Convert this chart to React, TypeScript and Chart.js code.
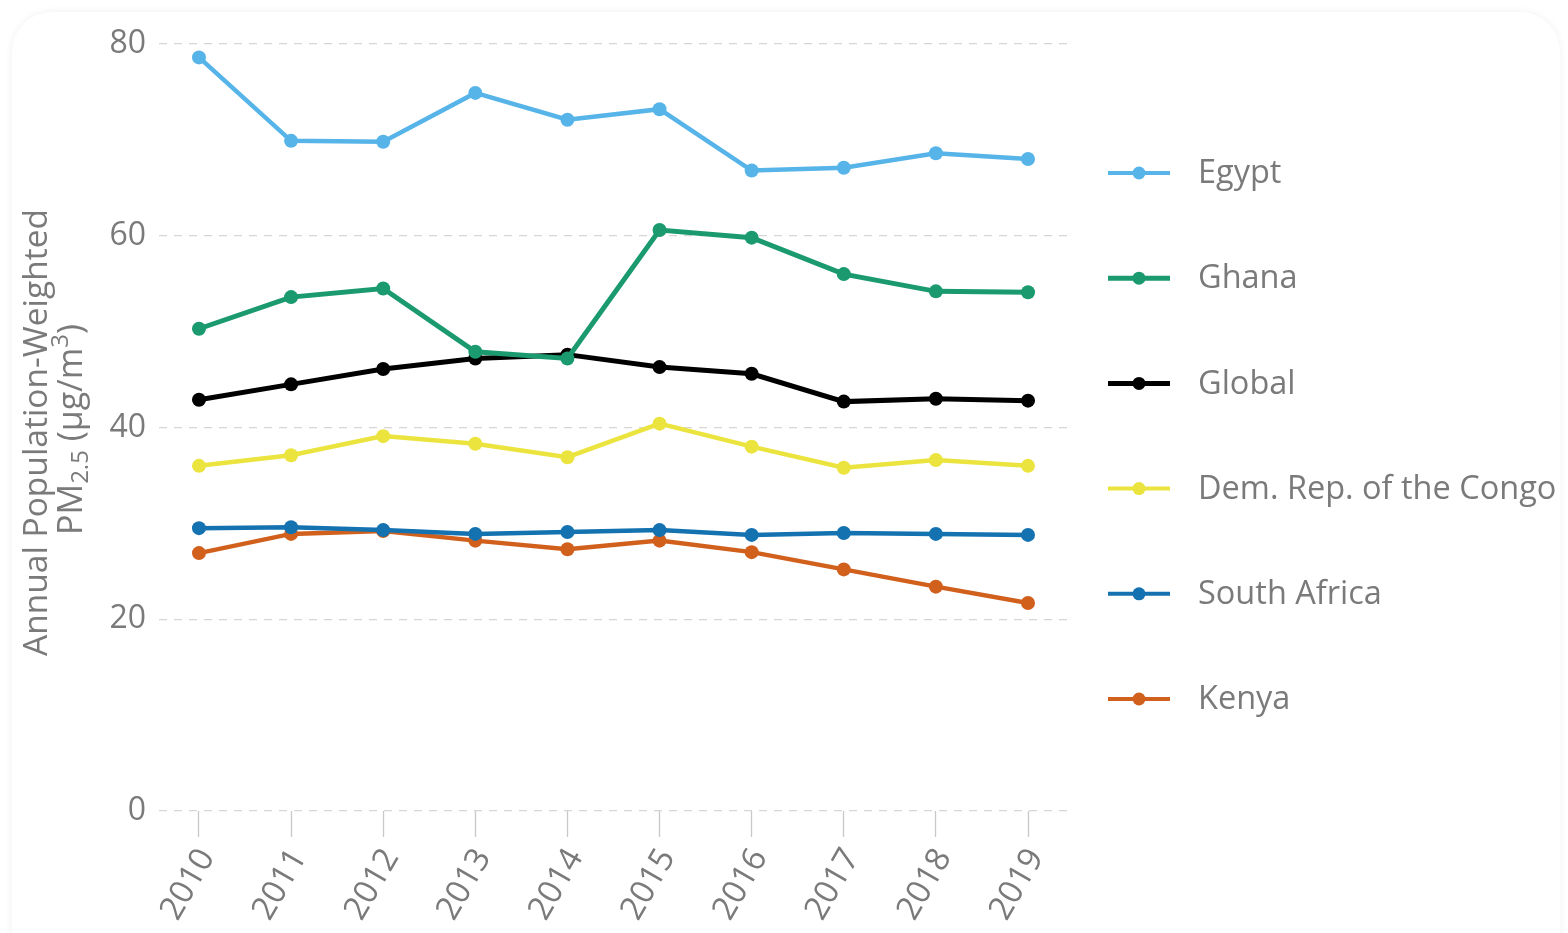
import React, { useEffect, useRef } from 'react';
import { Chart, registerables } from 'chart.js';

Chart.register(...registerables);

// ---- data ----
const years = [2010, 2011, 2012, 2013, 2014, 2015, 2016, 2017, 2018, 2019];
const egypt = [78.6, 69.9, 69.8, 74.9, 72.1, 73.2, 66.8, 67.1, 68.6, 68.0];
const ghana = [50.3, 53.6, 54.5, 47.9, 47.2, 60.6, 59.8, 56.0, 54.2, 54.1];
const globalAvg = [42.9, 44.5, 46.1, 47.2, 47.6, 46.3, 45.6, 42.7, 43.0, 42.8];
const drc = [36.0, 37.1, 39.1, 38.3, 36.9, 40.4, 38.0, 35.8, 36.6, 36.0];
const southAfrica = [29.5, 29.6, 29.3, 28.9, 29.1, 29.3, 28.8, 29.0, 28.9, 28.8];
const kenya = [26.9, 28.9, 29.2, 28.2, 27.3, 28.2, 27.0, 25.2, 23.4, 21.7];
const seriesNames = ['Egypt', 'Ghana', 'Global', 'Dem. Rep. of the Congo', 'South Africa', 'Kenya'];
const seriesColors = ['#56B4E9', '#1A9A6E', '#000000', '#EBE43F', '#1472B0', '#D2601D'];
const yTicks = [0, 20, 40, 60, 80];

const FONT = '"Open Sans", "Noto Sans", sans-serif';
const TEXT = '#7a7a7a';

const allSeries = [egypt, ghana, globalAvg, drc, southAfrica, kenya];

const overlayPlugin = {
  id: 'overlay',
  afterDraw(chart: any) {
    const { ctx, chartArea } = chart;
    ctx.save();
    // legend
    const x0 = chartArea.right + 39;
    seriesNames.forEach((name, i) => {
      const y = chartArea.top + 129 + i * 105.2;
      const c = seriesColors[i];
      ctx.strokeStyle = c;
      ctx.lineWidth = i === 1 || i === 2 ? 5 : 4;
      ctx.beginPath();
      ctx.moveTo(x0, y);
      ctx.lineTo(x0 + 62, y);
      ctx.stroke();
      ctx.fillStyle = c;
      ctx.beginPath();
      ctx.arc(x0 + 31, y, 6.5, 0, Math.PI * 2);
      ctx.fill();
      ctx.fillStyle = TEXT;
      ctx.font = `32.5px ${FONT}`;
      ctx.textAlign = 'left';
      ctx.textBaseline = 'middle';
      ctx.fillText(name, x0 + 90, y + 1);
    });
    // y-axis title (two lines, with sub/superscripts)
    const cy = (chartArea.top + chartArea.bottom) / 2 + 5;
    ctx.fillStyle = TEXT;
    ctx.save();
    ctx.translate(37, cy);
    ctx.rotate(-Math.PI / 2);
    ctx.font = `33.5px ${FONT}`;
    ctx.textAlign = 'center';
    ctx.textBaseline = 'middle';
    ctx.fillText('Annual Population-Weighted', 0, 0);
    ctx.restore();

    ctx.save();
    ctx.translate(72, cy - 3);
    ctx.rotate(-Math.PI / 2);
    ctx.textAlign = 'left';
    ctx.textBaseline = 'middle';
    const parts = [
      { t: 'PM', size: 34, dy: 0 },
      { t: '2.5', size: 24, dy: 9 },
      { t: ' (\u03bcg/m', size: 34, dy: 0 },
      { t: '3', size: 24, dy: -11 },
      { t: ')', size: 34, dy: 0 },
    ];
    let total = 0;
    parts.forEach((p) => {
      ctx.font = `${p.size}px ${FONT}`;
      total += ctx.measureText(p.t).width;
    });
    let x = -total / 2;
    parts.forEach((p) => {
      ctx.font = `${p.size}px ${FONT}`;
      ctx.fillText(p.t, x, p.dy);
      x += ctx.measureText(p.t).width;
    });
    ctx.restore();
    ctx.restore();
  },
};

export default function App() {
  const canvasRef = useRef<HTMLCanvasElement | null>(null);

  useEffect(() => {
    if (!canvasRef.current) return;
    const datasets = allSeries.map((vals, i) => ({
      label: seriesNames[i],
      data: years.map((yr, j) => ({ x: yr, y: vals[j] })),
      borderColor: seriesColors[i],
      backgroundColor: seriesColors[i],
      pointBackgroundColor: seriesColors[i],
      pointBorderWidth: 0,
      pointRadius: 7,
      borderWidth: i === 1 || i === 2 ? 5 : 4.5,
      tension: 0,
      fill: false,
    }));
    const chart = new Chart(canvasRef.current, {
      type: 'line',
      data: { datasets },
      options: {
        animation: false,
        responsive: true,
        maintainAspectRatio: false,
        layout: { padding: { top: 44, right: 499, left: 0, bottom: 0 } },
        plugins: {
          legend: { display: false },
          tooltip: { enabled: false },
          title: { display: false },
        },
        scales: {
          x: {
            type: 'linear',
            min: 2009.566,
            max: 2019.445,
            afterBuildTicks: (scale: any) => {
              scale.ticks = years.map((v) => ({ value: v }));
            },
            afterFit: (scale: any) => {
              scale.height = 122;
            },
            grid: {
              drawOnChartArea: false,
              drawTicks: true,
              tickLength: 26,
              tickColor: '#c8c8c8',
              tickWidth: 1.3,
            },
            border: { display: false },
            ticks: {
              minRotation: 60,
              maxRotation: 60,
              autoSkip: false,
              padding: 5,
              labelOffset: 8,
              color: TEXT,
              font: { family: FONT, size: 33 },
              callback: (v: any) => String(v),
            },
          },
          y: {
            min: 0,
            max: 80,
            afterBuildTicks: (scale: any) => {
              scale.ticks = yTicks.map((v) => ({ value: v }));
            },
            afterFit: (scale: any) => {
              scale.width = 159;
            },
            grid: {
              drawTicks: false,
              color: '#d6d6d6',
              lineWidth: 1.2,
            },
            border: { display: false, dash: [8, 7] },
            ticks: {
              padding: 13,
              color: TEXT,
              font: { family: FONT, size: 32 },
            },
          },
        },
      },
      plugins: [overlayPlugin],
    });
    return () => chart.destroy();
  }, []);

  return (
    <div
      style={{
        position: 'absolute',
        left: 0,
        top: 0,
        width: 1568,
        height: 933,
        background: '#ffffff',
        overflow: 'hidden',
      }}
    >
      <div
        style={{
          position: 'absolute',
          left: 12,
          top: 12,
          width: 1548,
          height: 1000,
          borderRadius: 40,
          boxShadow: '0 0 8px rgba(0,0,0,0.06)',
        }}
      />
      <div style={{ position: 'absolute', left: 0, top: 0, width: 1568, height: 933 }}>
        <canvas ref={canvasRef} />
      </div>
    </div>
  );
}
